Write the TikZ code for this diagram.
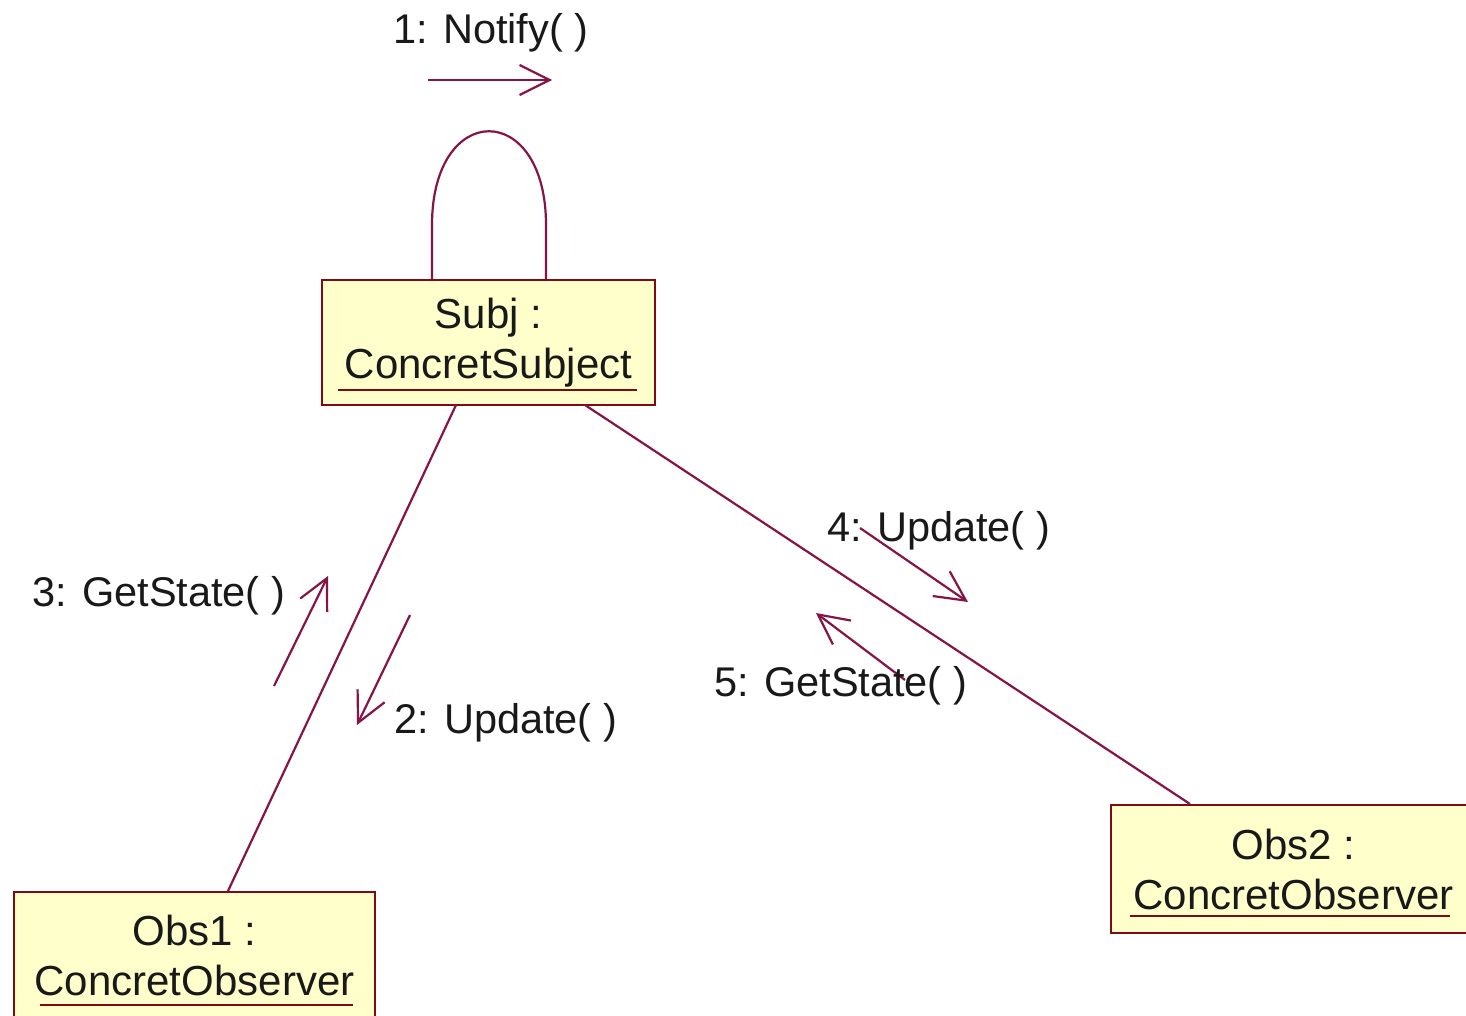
\documentclass[tikz,border=0pt]{standalone}
\usepackage{fontspec}
\setmainfont{Liberation Sans}
\usetikzlibrary{arrows.meta}
\definecolor{wire}{RGB}{135,20,70}
\definecolor{boxline}{RGB}{128,10,20}
\definecolor{boxfill}{RGB}{255,255,204}
\definecolor{txt}{RGB}{25,25,25}
\tikzset{
  objbox/.style={draw=boxline, line width=2.5pt, fill=boxfill, align=center, text=txt,
    font=\fontsize{42}{50}\selectfont, inner sep=0pt},
  lbl/.style={text=txt, font=\fontsize{41.5}{48}\selectfont, inner sep=0pt, anchor=west},
  link/.style={draw=wire, line width=2.2pt},
  msg/.style={draw=wire, line width=2.2pt, -{Straight Barb[length=30pt, width=30pt, line width=2.2pt]}},
  uline/.style={draw=boxline, line width=2.5pt}
}
\begin{document}
\begin{tikzpicture}[x=1pt, y=-1pt]
\useasboundingbox[fill=white] (0,0) rectangle (1466,1015);
\clip (0,0) rectangle (1466,1015);
% objects
\node[objbox, minimum width=333pt, minimum height=125pt] (subj) at (488.5,342.5) {Subj :\\ConcretSubject};
\node[objbox, minimum width=361pt, minimum height=126pt] (obs1) at (194.5,955) {Obs1 :\\ConcretObserver};
\node[objbox, minimum width=425pt, minimum height=128pt] (obs2) at (1323.5,869) {\hspace*{-60pt}Obs2 :\\\hspace*{-60pt}ConcretObserver};
% underlines
\draw[uline] (338,390) -- (637,390);
\draw[uline] (40,1005) -- (353,1005);
\draw[uline] (1130,916) -- (1450,916);
% links
\coordinate (sA) at (456,405);
\coordinate (sB) at (585,405);
\coordinate (o1) at (228,891);
\coordinate (o2) at (1190,804);
\draw[link] (sA) -- (o1);
\draw[link] (sB) -- (o2);
% self loop
\coordinate (lpL) at (432,279);
\coordinate (lpR) at (546,279);
\draw[link] (lpL) -- (432,225) .. controls (432,100) and (546,100) .. (546,225) -- (lpR);
% messages
\coordinate (m1a) at (428,80);  \coordinate (m1b) at (552,80);
\coordinate (m2a) at (410,615); \coordinate (m2b) at (357,725);
\coordinate (m3a) at (274,686); \coordinate (m3b) at (328,576);
\coordinate (m4a) at (860,528); \coordinate (m4b) at (968,602);
\coordinate (m5a) at (905,680); \coordinate (m5b) at (816,613);
\draw[msg] (m1a) -- (m1b);
\draw[msg] (m2a) -- (m2b);
\draw[msg] (m3a) -- (m3b);
\draw[msg] (m4a) -- (m4b);
\draw[msg] (m5a) -- (m5b);
% labels
\node[lbl] (l1) at (393,33) {1: Notify( )};
\node[lbl] (l3) at (32,596) {3: GetState( )};
\node[lbl] (l2) at (394,723) {2: Update( )};
\node[lbl] (l4) at (827,531) {4: Update( )};
\node[lbl] (l5) at (714,686) {5: GetState( )};
\end{tikzpicture}
\end{document}
